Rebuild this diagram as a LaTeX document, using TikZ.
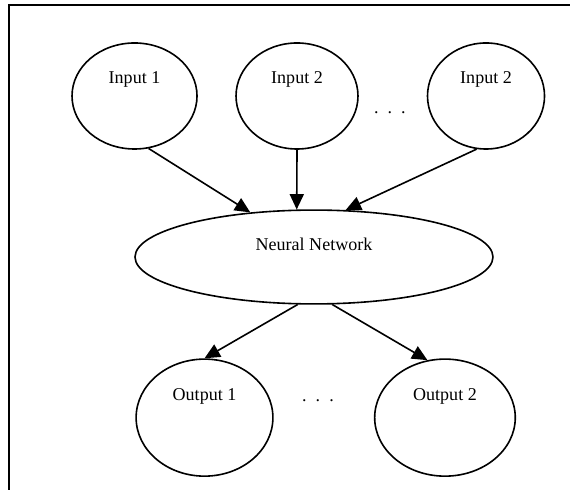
\documentclass[tikz,border=0pt]{standalone}
\usepackage{fontspec}
\setmainfont{Liberation Serif}
\usetikzlibrary{shapes.geometric,arrows.meta}
\begin{document}
\begin{tikzpicture}[line width=1.2pt,
        io/.style={draw, ellipse, inner sep=0pt, text height=9pt, font=\fontsize{13.5}{16}\selectfont},
        conn/.style={-{Triangle[length=11.5pt,width=10.5pt]}}]
        \useasboundingbox (0,0) rectangle (15,-12.895);
        \draw [line width=1.3pt] (15,-0.13) -- (0.237,-0.13) -- (0.237,-12.895);

        \node[io, minimum width=3.29cm, minimum height=2.79cm, text depth=27pt] (in1) at (3.54,-2.526) {Input 1};
        \node[io, minimum width=3.21cm, minimum height=2.79cm, text depth=27pt] (in2) at (7.816,-2.526) {Input 2};
        \node[io, minimum width=3.08cm, minimum height=2.79cm, text depth=27pt] (in3) at (12.79,-2.526) {Input 2};
        \node[anchor=base, font=\fontsize{13.5}{16}\selectfont] (dots1) at (10.26,-2.99) {.~~.~~.};

        \node[io, minimum width=9.42cm, minimum height=2.47cm, text depth=18pt] (nn) at (8.263,-6.763) {Neural Network};

        \node[io, minimum width=3.6cm, minimum height=3.08cm, text depth=34pt] (out1) at (5.382,-10.99) {Output 1};
        \node[io, minimum width=3.7cm, minimum height=3.08cm, text depth=34pt] (out2) at (11.71,-10.99) {Output 2};
        \node[anchor=base, font=\fontsize{13.5}{16}\selectfont] (dots2) at (8.368,-10.566) {.~~.~~.};

        \path[draw,conn] (in1.-75) -- (nn.145);
        \path[draw,conn] (in2.south) -- (nn.110);
        \path[draw,conn] (in3.-100) -- (nn.56);
        \path[draw,conn] (nn.-109) -- (out1.north);
        \path[draw,conn] (nn.-69) -- (out2.107);
\end{tikzpicture}
\end{document}
